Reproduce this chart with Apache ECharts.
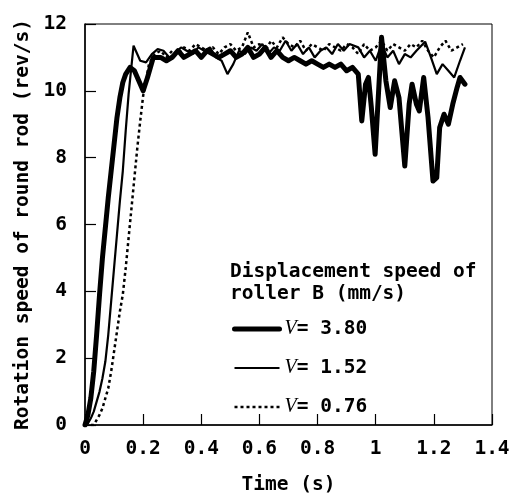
<!DOCTYPE html>
<html>
<head>
<meta charset="utf-8">
<script src="https://cdn.jsdelivr.net/npm/echarts@6/dist/echarts.min.js"></script>
<style>
	html, body { margin: 0; padding: 0; background: #fff; }
	#chart { width: 515px; height: 500px; }
</style>
</head>
<body>
<div id="chart"></div>
<script>
	// V = 3.80 mm/s (thick line)
	const fastT = [
		0, 0.01, 0.02, 0.03, 0.04, 0.05, 0.06, 0.07, 0.08, 0.09, 0.10, 0.11, 0.12, 0.13, 0.14, 0.155, 0.17, 0.185, 0.20, 0.215, 0.235,
		0.26, 0.28, 0.30, 0.32, 0.34, 0.36, 0.38, 0.40, 0.42, 0.44, 0.46, 0.48, 0.50, 0.52, 0.54, 0.56, 0.58, 0.60, 0.62, 0.64,
		0.66, 0.68, 0.70, 0.72, 0.74, 0.76, 0.78, 0.80, 0.82, 0.84, 0.86, 0.88, 0.90,
		0.92, 0.94, 0.952, 0.965, 0.975, 0.985, 0.998, 1.01, 1.02, 1.035, 1.05, 1.065, 1.08, 1.10, 1.115, 1.125, 1.14, 1.15,
		1.165, 1.18, 1.197, 1.21, 1.22, 1.235, 1.25, 1.265, 1.28, 1.29, 1.307
	];
	const fastV = [
		0, 0.3, 0.8, 1.6, 2.7, 3.9, 5.0, 5.9, 6.8, 7.6, 8.4, 9.2, 9.8, 10.25, 10.5, 10.7, 10.6, 10.3, 10.0, 10.4, 11.0,
		11.0, 10.9, 11.0, 11.2, 11.0, 11.1, 11.2, 11.0, 11.2, 11.1, 11.0, 11.1, 11.2, 11.0, 11.1, 11.3, 11.0, 11.1, 11.3, 11.0,
		11.2, 11.0, 10.9, 11.0, 10.9, 10.8, 10.9, 10.8, 10.7, 10.8, 10.7, 10.8, 10.6,
		10.7, 10.5, 9.1, 10.2, 10.4, 9.5, 8.1, 10.0, 11.6, 10.3, 9.5, 10.3, 9.8, 7.75, 9.6, 10.2, 9.6, 9.4,
		10.4, 9.2, 7.3, 7.4, 8.9, 9.3, 9.0, 9.6, 10.1, 10.4, 10.2
	];

	// V = 1.52 mm/s (thin line)
	const midT = [
		0, 0.01, 0.02, 0.03, 0.04, 0.05, 0.06, 0.07, 0.08, 0.09, 0.10, 0.11, 0.12, 0.13, 0.14, 0.15, 0.167, 0.19, 0.21,
		0.23, 0.25, 0.27, 0.29, 0.31, 0.33, 0.35, 0.37, 0.39, 0.41, 0.43, 0.45, 0.47, 0.49, 0.51, 0.53, 0.55, 0.57,
		0.59, 0.61, 0.63, 0.65, 0.67, 0.69, 0.71, 0.73, 0.75, 0.77, 0.79, 0.81, 0.83, 0.85, 0.87, 0.89, 0.91,
		0.94, 0.96, 0.98, 1.00, 1.02, 1.04, 1.06, 1.08, 1.10, 1.12, 1.14, 1.17, 1.19, 1.21, 1.23, 1.25, 1.27, 1.29, 1.307
	];
	const midV = [
		0, 0.05, 0.2, 0.4, 0.7, 1.0, 1.4, 1.9, 2.7, 3.7, 4.7, 5.7, 6.7, 7.6, 8.8, 9.9, 11.35, 10.9, 10.85,
		11.1, 11.25, 11.2, 11.0, 11.1, 11.3, 11.2, 11.1, 11.3, 11.2, 11.3, 11.0, 10.9, 10.5, 10.8, 11.2, 11.1, 11.3,
		11.2, 11.4, 11.1, 11.3, 11.2, 11.5, 11.2, 11.4, 11.1, 11.3, 11.0, 11.2, 11.3, 11.1, 11.4, 11.2, 11.4,
		11.3, 11.0, 11.2, 10.9, 11.4, 11.0, 11.2, 10.8, 11.1, 11.0, 11.2, 11.47, 11.0, 10.5, 10.8, 10.6, 10.4, 10.9, 11.3
	];

	// V = 0.76 mm/s (dotted line)
	const slowT = [
		0, 0.03, 0.05, 0.06, 0.07, 0.08, 0.09, 0.10, 0.11, 0.12, 0.13, 0.14, 0.15, 0.16, 0.17, 0.18, 0.19, 0.20, 0.21, 0.22,
		0.24, 0.26, 0.28, 0.30, 0.32, 0.34, 0.36, 0.38, 0.40, 0.42, 0.44, 0.46, 0.48, 0.50, 0.52, 0.54, 0.56,
		0.58, 0.60, 0.62, 0.64, 0.66, 0.68, 0.70, 0.72, 0.74, 0.76, 0.78, 0.80, 0.82, 0.84, 0.86, 0.88, 0.90,
		0.92, 0.94, 0.96, 0.98, 1.00, 1.02, 1.04, 1.06, 1.08, 1.10, 1.12, 1.14, 1.16, 1.18, 1.20, 1.22, 1.24, 1.26, 1.28, 1.30
	];
	const slowV = [
		0, 0, 0.3, 0.5, 0.8, 1.1, 1.6, 2.2, 2.8, 3.4, 3.9, 4.7, 5.6, 6.5, 7.4, 8.3, 9.1, 9.85, 10.3, 10.8,
		11.1, 11.2, 11.0, 11.2, 11.1, 11.3, 11.2, 11.4, 11.3, 11.2, 11.3, 11.1, 11.3, 11.4, 11.2, 11.3, 11.75,
		11.3, 11.4, 11.2, 11.5, 11.3, 11.6, 11.4, 11.3, 11.5, 11.2, 11.4, 11.3, 11.2, 11.4, 11.3, 11.2, 11.4,
		11.3, 11.1, 11.4, 11.2, 11.3, 11.5, 11.2, 11.4, 11.3, 11.2, 11.4, 11.3, 11.5, 11.2, 11.0, 11.3, 11.5, 11.2, 11.3, 11.4
	];

	const seriesNames = ["V= 3.80", "V= 1.52", "V= 0.76"];
	const legendTitle = "Displacement speed of\nroller B (mm/s)";

	const FONT = "'DejaVu Sans Mono', monospace";
	const pairs = (t, v) => t.map((x, i) => [x, v[i]]);

	// line look of each series, reused by the legend
	const fastLine = { color: "#000", width: 5, join: "round", cap: "round" };
	const midLine = { color: "#000", width: 2.2 };
	const slowLine = { color: "#000", width: 2.5, type: [3, 3] };

	const chart = echarts.init(document.getElementById("chart"));

	chart.setOption({
		animation: false,
		backgroundColor: "#fff",
		grid: {
			left: 85,
			right: 23,
			top: 24,
			bottom: 73,
			show: true,
			borderColor: "#000",
			borderWidth: 1
		},
		xAxis: {
			type: "value",
			min: 0,
			max: 1.4,
			interval: 0.2,
			name: "Time (s)",
			nameLocation: "middle",
			nameGap: 50,
			nameTextStyle: { fontFamily: FONT, fontSize: 19.5, fontWeight: "bold", color: "#000" },
			axisLine: { lineStyle: { color: "#000", width: 1.5 } },
			axisTick: { inside: true, length: 11, lineStyle: { color: "#000", width: 1.2 } },
			axisLabel: { fontFamily: FONT, fontSize: 19.5, fontWeight: "bold", color: "#000", margin: 14 },
			splitLine: { show: false }
		},
		yAxis: {
			type: "value",
			min: 0,
			max: 12,
			interval: 2,
			name: "Rotation speed of round rod (rev/s)",
			nameLocation: "middle",
			nameGap: 52,
			nameTextStyle: { fontFamily: FONT, fontSize: 19.5, fontWeight: "bold", color: "#000" },
			axisLine: { lineStyle: { color: "#000", width: 1.5 } },
			axisTick: { inside: true, length: 11, lineStyle: { color: "#000", width: 1.2 } },
			axisLabel: { fontFamily: FONT, fontSize: 19.5, fontWeight: "bold", color: "#000", margin: 18 },
			splitLine: { show: false }
		},
		legend: {
			data: [
				{ name: seriesNames[0], itemStyle: { opacity: 0 }, lineStyle: fastLine },
				{ name: seriesNames[1], itemStyle: { opacity: 0 }, lineStyle: midLine },
				{ name: seriesNames[2], itemStyle: { opacity: 0 }, lineStyle: slowLine }
			],
			orient: "vertical",
			left: 232,
			top: 319,
			padding: 0,
			itemWidth: 45,
			itemHeight: 14,
			itemGap: 19,
			formatter: name => "{v|V}{t|" + name.slice(1) + "}",
			textStyle: {
				color: "#000",
				rich: {
					v: { fontFamily: "'Liberation Serif', serif", fontStyle: "italic", fontSize: 20, color: "#000" },
					t: { fontFamily: FONT, fontSize: 19.5, fontWeight: "bold", color: "#000" }
				}
			}
		},
		graphic: [
			{
				type: "text",
				left: 230,
				top: 261,
				style: {
					text: legendTitle,
					font: "bold 19.5px 'DejaVu Sans Mono', monospace",
					lineHeight: 22,
					fill: "#000"
				}
			}
		],
		series: [
			{
				name: seriesNames[2],
				type: "line",
				data: pairs(slowT, slowV),
				symbol: "none",
				itemStyle: { color: "#000" },
				lineStyle: slowLine
			},
			{
				name: seriesNames[1],
				type: "line",
				data: pairs(midT, midV),
				symbol: "none",
				itemStyle: { color: "#000" },
				lineStyle: midLine
			},
			{
				name: seriesNames[0],
				type: "line",
				data: pairs(fastT, fastV),
				symbol: "none",
				itemStyle: { color: "#000" },
				lineStyle: fastLine
			}
		]
	});
</script>
</body>
</html>
